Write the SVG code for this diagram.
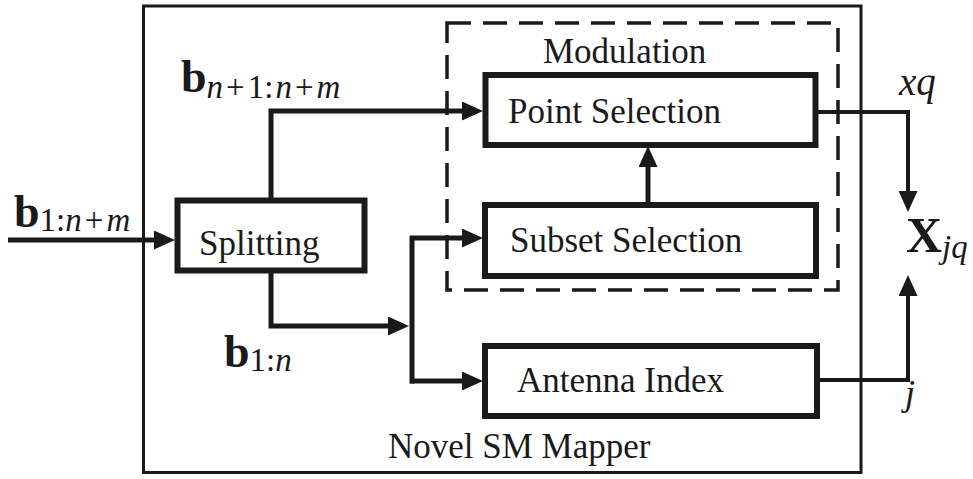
<svg xmlns="http://www.w3.org/2000/svg" width="973" height="479" viewBox="0 0 973 479">
  <defs>
    <marker id="arrow" markerUnits="userSpaceOnUse" markerWidth="21" markerHeight="19" viewBox="0 0 21 19" refX="9" refY="9.5" orient="auto">
      <path d="M0,0 L21,9.5 L0,19 z" fill="#1a1a1a"/>
    </marker>
    <style>
      .lbl { font-family: "Liberation Serif", "Times New Roman", serif; font-size: 35px; fill: #1a1a1a; }
      .math { font-family: "Liberation Serif", "Times New Roman", serif; fill: #1a1a1a; }
      .bold { font-weight: bold; }
      .it { font-style: italic; }
      .sub { font-size: 33px; }
      .box { fill: #ffffff; stroke: #1a1a1a; stroke-width: 6; }
      .wire { fill: none; stroke: #1a1a1a; stroke-width: 5; }
      .arrowed { marker-end: url(#arrow); }
    </style>
  </defs>

  <!-- enclosing mapper frame -->
  <g id="mapper">
    <rect x="143.5" y="6" width="717.5" height="466.5" fill="none" stroke="#1a1a1a" stroke-width="3"/>
    <text class="lbl" x="388" y="458">Novel SM Mapper</text>
  </g>

  <!-- dashed modulation group -->
  <g id="modulation">
    <rect x="447" y="23" width="391" height="267" fill="none" stroke="#1a1a1a" stroke-width="3.5" stroke-dasharray="24 12"/>
    <text class="lbl" x="543" y="63">Modulation</text>
  </g>

  <!-- connectors -->
  <g id="connectors">
    <path class="wire arrowed" d="M8,240 H163"/>
    <path class="wire arrowed" d="M271,200 V111 H471"/>
    <path class="wire arrowed" d="M271,271 V326 H397"/>
    <path class="wire" d="M412,236 V383.5"/>
    <path class="wire arrowed" d="M410,238 H471"/>
    <path class="wire arrowed" d="M410,381 H471"/>
    <path class="wire arrowed" d="M648,203 V158"/>
    <path class="wire arrowed" d="M816,112 H908 V200" style="stroke-width:4"/>
    <path class="wire arrowed" d="M817,380 H908 V287" style="stroke-width:4"/>
  </g>

  <g id="splitting">
    <rect class="box" x="177.5" y="200.5" width="187" height="70"/>
    <text class="lbl" x="199" y="255">Splitting</text>
  </g>

  <g id="point-selection">
    <rect class="box" x="485.5" y="75" width="330" height="70"/>
    <text class="lbl" x="508" y="123">Point Selection</text>
  </g>

  <g id="subset-selection">
    <rect class="box" x="485" y="205" width="331" height="71"/>
    <text class="lbl" x="510" y="252">Subset Selection</text>
  </g>

  <g id="antenna-index">
    <rect class="box" x="485" y="346" width="332" height="70"/>
    <text class="lbl" x="517" y="392">Antenna Index</text>
  </g>

  <!-- signal labels -->
  <g id="labels">
    <text class="math" x="14" y="227"><tspan class="bold" font-size="46">b</tspan><tspan class="sub" dy="4">1:</tspan><tspan class="sub it">n</tspan><tspan class="sub" dx="3">+</tspan><tspan class="sub it" dx="3">m</tspan></text>
    <text class="math" x="181" y="92"><tspan class="bold" font-size="46">b</tspan><tspan class="sub it" dy="6">n</tspan><tspan class="sub" dx="3">+</tspan><tspan class="sub" dx="3">1:</tspan><tspan class="sub it" dx="2">n</tspan><tspan class="sub" dx="3">+</tspan><tspan class="sub it" dx="3">m</tspan></text>
    <text class="math" x="224" y="367"><tspan class="bold" font-size="46">b</tspan><tspan class="sub" dy="4">1:</tspan><tspan class="sub it">n</tspan></text>
    <text class="math it" x="899" y="95" font-size="39">xq</text>
    <text class="math" x="906" y="252"><tspan class="bold" font-size="50">X</tspan><tspan class="sub it" dy="6">jq</tspan></text>
    <text class="math it" x="905" y="405" font-size="36">j</text>
  </g>
</svg>
